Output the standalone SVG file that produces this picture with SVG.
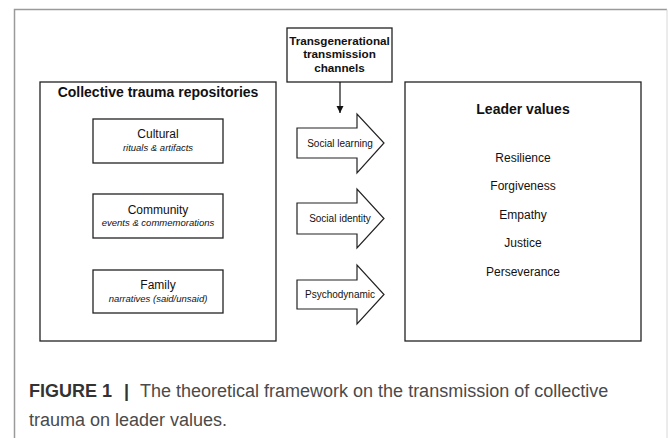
<svg xmlns="http://www.w3.org/2000/svg" width="668" height="438" viewBox="0 0 668 438">
<defs>
<style>
.box{fill:#fff;stroke:#222;stroke-width:1.3}
.arr{fill:#fff;stroke:#222;stroke-width:1.2;stroke-linejoin:miter}
.t{font-family:"Liberation Sans",Arial,sans-serif;fill:#111;text-anchor:middle}
.b{font-weight:bold}
.it{font-style:italic}
.cap{font-family:"Liberation Sans",Arial,sans-serif;font-size:18px}
</style>
<marker id="ah" viewBox="0 0 10 10" refX="10" refY="5" markerWidth="7" markerHeight="8" markerUnits="userSpaceOnUse" orient="auto">
<path d="M0,0 L10,5 L0,10 z" fill="#111"/>
</marker>
</defs>
<rect width="668" height="438" fill="#fff"/>
<g id="frame" fill="none">
<path d="M14.5,438 V9.5 H667" stroke="#9a9a9a" stroke-width="1.5"/>
<path d="M667,9.5 V438" stroke="#d8d8d8" stroke-width="1"/>
</g>
<g id="repositories">
<rect class="box" x="40" y="82" width="236" height="259"/>
<text class="t b" x="158" y="97" font-size="14">Collective trauma repositories</text>
</g>
<g id="cultural">
<rect class="box" x="93" y="119" width="130" height="44"/>
<text class="t" x="158" y="138" font-size="12">Cultural</text>
<text class="t it" x="158" y="151" font-size="9.5">rituals &amp; artifacts</text>
</g>
<g id="community">
<rect class="box" x="93" y="194" width="130" height="44"/>
<text class="t" x="158" y="213.5" font-size="12">Community</text>
<text class="t it" x="158" y="226" font-size="9.5">events &amp; commemorations</text>
</g>
<g id="family">
<rect class="box" x="93" y="270" width="130" height="43"/>
<text class="t" x="158" y="289" font-size="12">Family</text>
<text class="t it" x="158" y="301.5" font-size="9.5">narratives (said/unsaid)</text>
</g>
<g id="channels">
<rect class="box" x="287" y="28" width="105" height="54"/>
<text class="t b" x="339.5" y="44.5" font-size="11.7">Transgenerational</text>
<text class="t b" x="339.5" y="58" font-size="11.7">transmission</text>
<text class="t b" x="339.5" y="71.5" font-size="11.7">channels</text>
</g>
<g id="social-learning">
<path class="arr" d="M297,128 H357 V114 L384,143 L357,173 V158 H297 Z"/>
<text class="t" x="340" y="146.5" font-size="10">Social learning</text>
</g>
<g id="social-identity">
<path class="arr" d="M297,203 H357 V189 L384,218.5 L357,248 V234 H297 Z"/>
<text class="t" x="340" y="222" font-size="10">Social identity</text>
</g>
<g id="psychodynamic">
<path class="arr" d="M297,280 H357 V265 L384,294.5 L357,324 V309 H297 Z"/>
<text class="t" x="340" y="298" font-size="10">Psychodynamic</text>
</g>
<g id="leader-values">
<rect class="box" x="405" y="82" width="236" height="259"/>
<text class="t b" x="523" y="114" font-size="14">Leader values</text>
<text class="t" x="523" y="161.5" font-size="12">Resilience</text>
<text class="t" x="523" y="190" font-size="12">Forgiveness</text>
<text class="t" x="523" y="218.5" font-size="12">Empathy</text>
<text class="t" x="523" y="247" font-size="12">Justice</text>
<text class="t" x="523" y="275.5" font-size="12">Perseverance</text>
</g>
<g id="connectors">
<line x1="340" y1="82" x2="340" y2="113" stroke="#111" stroke-width="1.2" marker-end="url(#ah)"/>
</g>
<g id="caption">
<text class="cap" x="29" y="397" fill="#333"><tspan font-weight="bold">FIGURE 1</tspan><tspan font-weight="bold" x="124">|</tspan><tspan fill="#4a4a4a" x="140">The theoretical framework on the transmission of collective</tspan></text>
<text class="cap" x="29" y="426" fill="#4a4a4a">trauma on leader values.</text>
</g>
</svg>
